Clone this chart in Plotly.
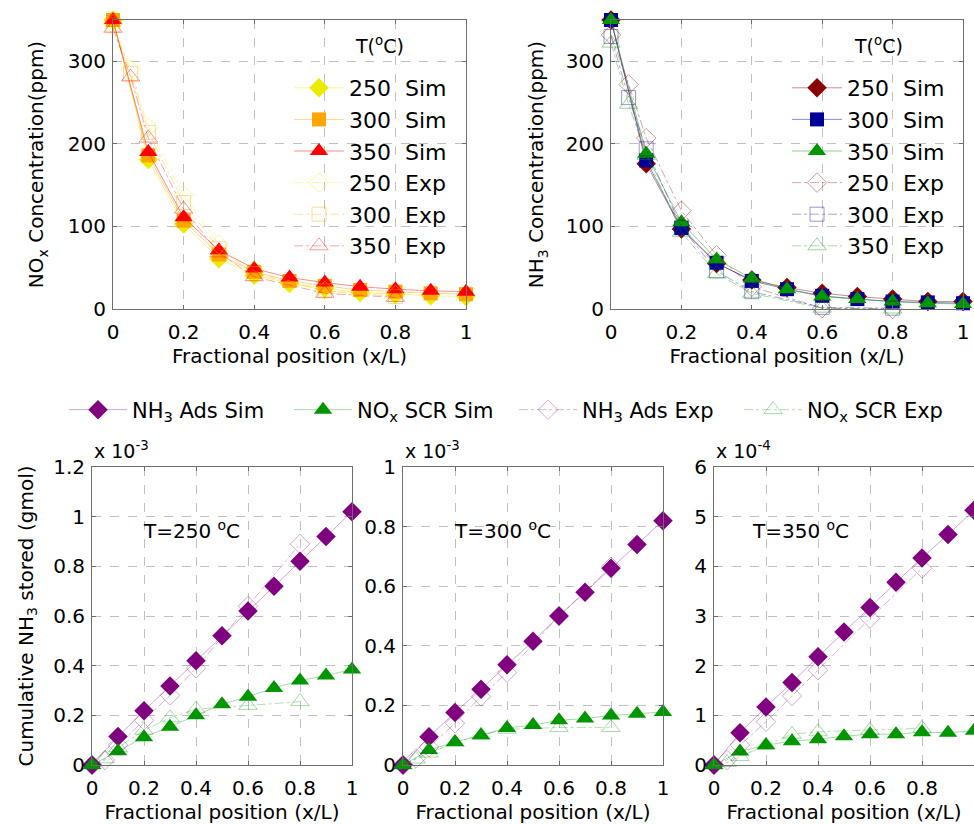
import plotly.graph_objects as go

W, H = 974, 824

# ---------------- data ----------------
x_sim = [0, 0.1, 0.2, 0.3, 0.4, 0.5, 0.6, 0.7, 0.8, 0.9, 1.0]
x_exp = [0, 0.05, 0.1, 0.2, 0.3, 0.4, 0.6, 0.8]
temps = ["250", "300", "350"]

# NOx concentration (ppm)
nox_sim_250 = [350, 181, 103, 61, 41, 31, 25, 20, 18, 16, 15]
nox_sim_300 = [350, 186, 107, 66, 45, 34, 28, 23, 21, 19, 18]
nox_sim_350 = [350, 190, 111, 71, 49, 38, 32, 27, 24, 22, 21]
nox_exp_250 = [345, 290, 220, 138, 78, 46, 22, 17]
nox_exp_300 = [344, 285, 214, 129, 73, 43, 22, 15]
nox_exp_350 = [340, 281, 207, 121, 68, 39, 19, 14]

# NH3 concentration (ppm)
nh3_sim_250 = [350, 176, 97, 55, 35, 26, 19, 15, 12, 9, 9]
nh3_sim_300 = [350, 180, 98, 56, 34, 24, 16, 12, 9, 8, 7]
nh3_sim_350 = [350, 188, 105, 60, 37, 24, 15, 12, 9, 7, 6]
nh3_exp_250 = [332, 272, 207, 119, 65, 27, 1, 0]
nh3_exp_300 = [330, 256, 194, 99, 46, 21, 2, 1]
nh3_exp_350 = [322, 248, 186, 93, 43, 19, 1, 0]

# Cumulative NH3 stored (scaled units, see exponent labels)
ads_sim_250 = [0, 0.115, 0.218, 0.318, 0.42, 0.52, 0.62, 0.72, 0.82, 0.92, 1.02]
scr_sim_250 = [0, 0.055, 0.112, 0.154, 0.2, 0.245, 0.275, 0.31, 0.34, 0.36, 0.385]
ads_exp_250 = [0, 0.02, 0.08, 0.18, 0.28, 0.39, 0.64, 0.89]
scr_exp_250 = [0, 0.025, 0.07, 0.14, 0.19, 0.225, 0.24, 0.255]

ads_sim_300 = [0, 0.095, 0.176, 0.254, 0.336, 0.415, 0.5, 0.58, 0.66, 0.74, 0.82]
scr_sim_300 = [0, 0.05, 0.077, 0.1, 0.124, 0.134, 0.15, 0.156, 0.166, 0.172, 0.178]
ads_exp_300 = [0, 0.022, 0.06, 0.14, 0.23, 0.31, 0.5, 0.665]
scr_exp_300 = [0, 0.02, 0.04, 0.075, 0.1, 0.12, 0.126, 0.126]

ads_sim_350 = [0, 0.65, 1.17, 1.66, 2.18, 2.68, 3.17, 3.68, 4.17, 4.64, 5.13]
scr_sim_350 = [0, 0.27, 0.4, 0.48, 0.52, 0.58, 0.62, 0.62, 0.66, 0.65, 0.69]
ads_exp_350 = [0, 0.1, 0.4, 0.87, 1.39, 1.91, 2.95, 3.96]
scr_exp_350 = [0, 0.05, 0.17, 0.4, 0.62, 0.67, 0.7, 0.74]

exponents = ["-3", "-3", "-4"]
panel_titles = ["T=250 <sup>o</sup>C", "T=300 <sup>o</sup>C", "T=350 <sup>o</sup>C"]
x_ticks = [0, 0.2, 0.4, 0.6, 0.8, 1]
x_ticklabels = ["0", "0.2", "0.4", "0.6", "0.8", "1"]

# ---------------- style ----------------
FONT = "DejaVu Sans, Verdana, sans-serif"
top_left_cols = ["rgb(235,235,0)", "rgb(255,165,0)", "rgb(255,0,0)"]
top_right_cols = ["rgb(139,0,0)", "rgb(0,0,153)", "rgb(0,150,0)"]
purple = "rgb(128,0,128)"
green = "rgb(0,150,0)"
sim_symbols = ["diamond", "square", "triangle-up"]
exp_symbols = ["diamond-open", "square-open", "triangle-up-open"]
sim_sizes = [15, 14, 16]


def fade(rgb, a):
    return rgb.replace("rgb(", "rgba(").replace(")", f",{a})")


def px_x(p):
    return p / W


def px_y(p):
    return 1 - p / H


fig = go.Figure()

# ---------------- top panels ----------------
top_sets = [
    ("x", "y", "legend", top_left_cols,
     [nox_sim_250, nox_sim_300, nox_sim_350], [nox_exp_250, nox_exp_300, nox_exp_350]),
    ("x2", "y2", "legend2", top_right_cols,
     [nh3_sim_250, nh3_sim_300, nh3_sim_350], [nh3_exp_250, nh3_exp_300, nh3_exp_350]),
]
for xa, ya, leg, cols, sims, exps in top_sets:
    for i, t in enumerate(temps):
        fig.add_trace(go.Scatter(
            x=x_sim, y=sims[i], xaxis=xa, yaxis=ya, legend=leg,
            name=f"{t}\u00a0\u00a0Sim", mode="lines+markers", cliponaxis=False,
            line=dict(color=fade(cols[i], 0.45), width=1),
            marker=dict(symbol=sim_symbols[i], size=sim_sizes[i], color=cols[i],
                        line=dict(width=0))))
    for i, t in enumerate(temps):
        fig.add_trace(go.Scatter(
            x=x_exp, y=exps[i], xaxis=xa, yaxis=ya, legend=leg,
            name=f"{t}\u00a0\u00a0Exp", mode="lines+markers", cliponaxis=False,
            line=dict(color=fade(cols[i], 0.35), width=1, dash="dashdot"),
            marker=dict(symbol=exp_symbols[i], size=sim_sizes[i], color=fade(cols[i], 0.4),
                        line=dict(width=1, color=fade(cols[i], 0.45)))))

# ---------------- bottom panels ----------------
bottom_sets = [
    ("x3", "y3", ads_sim_250, scr_sim_250, ads_exp_250, scr_exp_250),
    ("x4", "y4", ads_sim_300, scr_sim_300, ads_exp_300, scr_exp_300),
    ("x5", "y5", ads_sim_350, scr_sim_350, ads_exp_350, scr_exp_350),
]
for k, (xa, ya, a_s, s_s, a_e, s_e) in enumerate(bottom_sets):
    show = k == 0
    fig.add_trace(go.Scatter(
        x=x_sim, y=a_s, xaxis=xa, yaxis=ya, legend="legend3", showlegend=show,
        name="NH<sub>3</sub> Ads Sim", mode="lines+markers", cliponaxis=False,
        line=dict(color=fade(purple, 0.35), width=1),
        marker=dict(symbol="diamond", size=15, color=purple)))
    fig.add_trace(go.Scatter(
        x=x_sim, y=s_s, xaxis=xa, yaxis=ya, legend="legend3", showlegend=show,
        name="NO<sub>x</sub> SCR Sim", mode="lines+markers", cliponaxis=False,
        line=dict(color=fade(green, 0.35), width=1),
        marker=dict(symbol="triangle-up", size=16, color=green)))
    fig.add_trace(go.Scatter(
        x=x_exp, y=a_e, xaxis=xa, yaxis=ya, legend="legend3", showlegend=show,
        name="NH<sub>3</sub> Ads Exp", mode="lines+markers", cliponaxis=False,
        line=dict(color=fade(purple, 0.3), width=1, dash="dashdot"),
        marker=dict(symbol="diamond-open", size=15, color=fade(purple, 0.35),
                    line=dict(width=1))))
    fig.add_trace(go.Scatter(
        x=x_exp, y=s_e, xaxis=xa, yaxis=ya, legend="legend3", showlegend=show,
        name="NO<sub>x</sub> SCR Exp", mode="lines+markers", cliponaxis=False,
        line=dict(color=fade(green, 0.3), width=1, dash="dashdot"),
        marker=dict(symbol="triangle-up-open", size=16, color=fade(green, 0.35),
                    line=dict(width=1))))

# ---------------- axes ----------------
common = dict(showline=True, mirror="ticks", linecolor="#6e6e6e", linewidth=1,
              ticks="inside", ticklen=4, tickcolor="#6e6e6e", automargin=False,
              showgrid=True, gridcolor="#c0c0c0", griddash="dash", gridwidth=1,
              zeroline=False, tickfont=dict(size=20, color="black", family=FONT))
xtitle = dict(text="Fractional position (x/L)", font=dict(size=20, color="black", family=FONT))

domains_x = {
    "x": (113, 466), "x2": (611, 963),
    "x3": (92, 352), "x4": (403, 663), "x5": (714, 974),
}
top_dom_y = (px_y(309), px_y(20))
bot_dom_y = (px_y(765), px_y(467))

layout_axes = {}
for name, (a, b) in domains_x.items():
    key = "xaxis" if name == "x" else "xaxis" + name[1:]
    yname = "y" + name[1:]
    layout_axes[key] = dict(common, domain=[px_x(a), min(px_x(b), 1.0)], anchor=yname,
                            range=[0, 1], tickvals=x_ticks, ticktext=x_ticklabels,
                            ticklabelstandoff=5,
                            title=dict(xtitle, standoff=5))
for name in ["y", "y2", "y3", "y4", "y5"]:
    key = "yaxis" if name == "y" else "yaxis" + name[1:]
    xname = "x" + name[1:]
    dom = top_dom_y if name in ("y", "y2") else bot_dom_y
    layout_axes[key] = dict(common, domain=list(dom), anchor=xname, ticklabelstandoff=2)

ytfont = dict(size=20, color="black", family=FONT)
layout_axes["yaxis"].update(range=[0, 350], tickvals=[0, 100, 200, 300],
                            title=dict(text="NO<sub>x</sub> Concentration(ppm)", standoff=18,
                                       font=ytfont))
layout_axes["yaxis2"].update(range=[0, 350], tickvals=[0, 100, 200, 300],
                             title=dict(text="NH<sub>3</sub> Concentration(ppm)", standoff=16,
                                        font=ytfont))
layout_axes["yaxis3"].update(range=[0, 1.2], dtick=0.2,
                             title=dict(text="Cumulative NH<sub>3</sub> stored (gmol)", standoff=14,
                                        font=ytfont))
layout_axes["yaxis4"].update(range=[0, 1], dtick=0.2)
layout_axes["yaxis5"].update(range=[0, 6], dtick=1)

fig.update_layout(**layout_axes)

# ---------------- annotations ----------------
ann = []
for xt in [353, 852]:
    ann.append(dict(text="T(<sup>o</sup>C)", x=px_x(xt), y=px_y(45), xref="paper", yref="paper",
                    xanchor="left", yanchor="middle", showarrow=False,
                    font=dict(size=19, color="black", family=FONT)))
title_pos = [(0.19, 0.945), (0.19, 0.79), (0.14, 4.73)]
for k, xa in enumerate(["x3", "x4", "x5"]):
    ya = "y" + xa[1:]
    ann.append(dict(text="x 10<sup>" + exponents[k] + "</sup>", xref=xa + " domain", yref=ya + " domain",
                    x=0, y=1, xanchor="left", yanchor="bottom", yshift=3, showarrow=False,
                    font=dict(size=19, color="black", family=FONT)))
    ann.append(dict(text=panel_titles[k], xref=xa, yref=ya, x=title_pos[k][0], y=title_pos[k][1],
                    xanchor="left", yanchor="middle", showarrow=False,
                    font=dict(size=20, color="black", family=FONT)))

fig.update_layout(
    width=W, height=H, margin=dict(l=0, r=0, t=0, b=0, autoexpand=False),
    paper_bgcolor="white", plot_bgcolor="white",
    font=dict(family=FONT, size=20, color="black"),
    annotations=ann,
    legend=dict(x=px_x(289), y=px_y(67), xanchor="left", yanchor="top",
                bgcolor="rgba(0,0,0,0)", font=dict(size=22, family=FONT, color="black"),
                tracegroupgap=0, itemwidth=50),
    legend2=dict(x=px_x(787), y=px_y(67), xanchor="left", yanchor="top",
                 bgcolor="rgba(0,0,0,0)", font=dict(size=22, family=FONT, color="black"),
                 tracegroupgap=0, itemwidth=50),
    legend3=dict(orientation="h", x=px_x(64), y=px_y(410), xanchor="left", yanchor="middle",
                 bgcolor="rgba(0,0,0,0)", font=dict(size=21, family=FONT, color="black"),
                 itemwidth=58, entrywidth=152, entrywidthmode="pixels"),
    showlegend=True,
)

fig.write_html("out.html")
